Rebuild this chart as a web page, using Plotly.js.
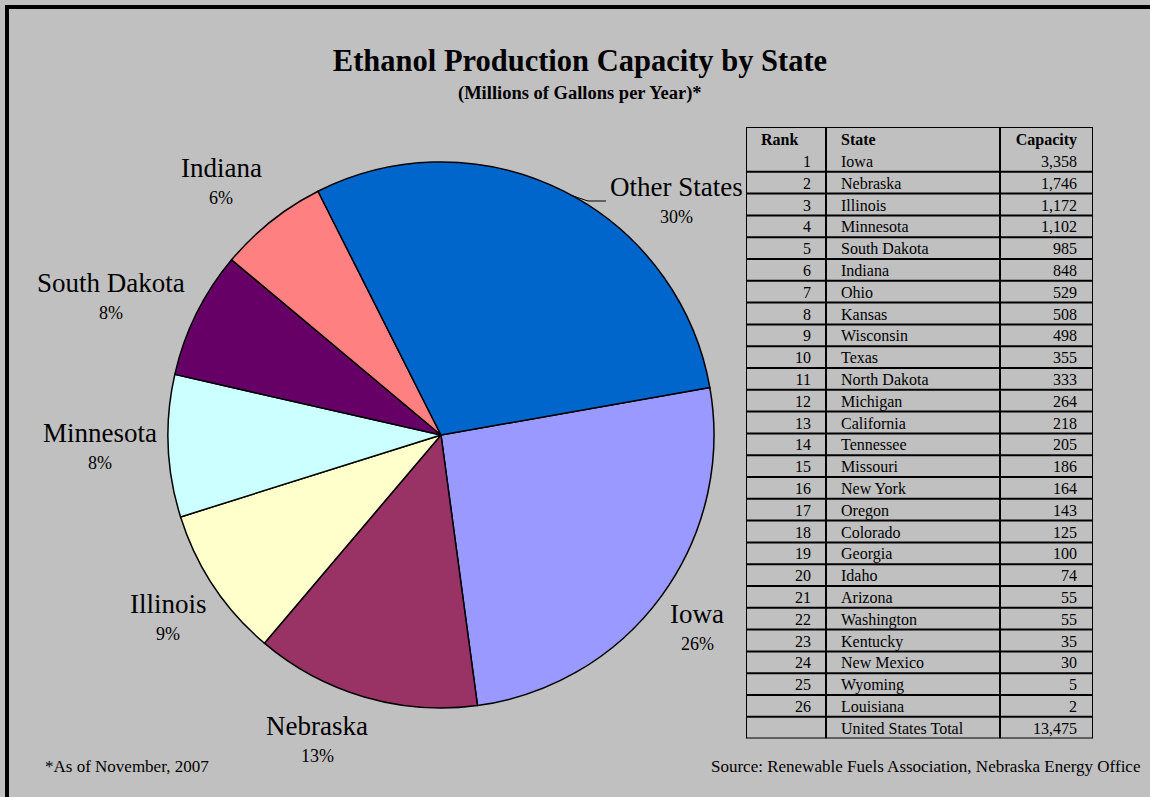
<!DOCTYPE html>
<html>
<head>
<meta charset="utf-8">
<script src="https://cdn.plot.ly/plotly-3.0.1.min.js"></script>
<style>html,body{margin:0;padding:0;background:#C0C0C0;}#chart{width:1150px;height:797px;}</style>
</head>
<body>
<div id="chart"></div>
<script>
// ---- data ----
const ranks = [1,2,3,4,5,6,7,8,9,10,11,12,13,14,15,16,17,18,19,20,21,22,23,24,25,26];
const states = ['Iowa','Nebraska','Illinois','Minnesota','South Dakota','Indiana','Ohio','Kansas','Wisconsin','Texas','North Dakota','Michigan','California','Tennessee','Missouri','New York','Oregon','Colorado','Georgia','Idaho','Arizona','Washington','Kentucky','New Mexico','Wyoming','Louisiana'];
const capacity = [3358,1746,1172,1102,985,848,529,508,498,355,333,264,218,205,186,164,143,125,100,74,55,55,35,30,5,2];
const tableHeaders = ['Rank','State','Capacity'];
const totalLabel = 'United States Total';
const totalCapacity = 13475;

const pieStates = ['Iowa','Nebraska','Illinois','Minnesota','South Dakota','Indiana'];
const otherLabel = 'Other States';
const pieColors = ['#9999FF','#993366','#FFFFCC','#CCFFFF','#660066','#FF8080','#0066CC'];

// pie values built from table
const pieLabels = pieStates.concat([otherLabel]);
const pieValues = pieStates.map(s => capacity[states.indexOf(s)]);
pieValues.push(capacity.filter((v,i) => !pieStates.includes(states[i])).reduce((a,b)=>a+b,0));
const pieSum = pieValues.reduce((a,b)=>a+b,0);

// ---- layout helpers ----
const W = 1150, H = 797;
const fx = px => px / W;
const fy = py => 1 - py / H;
const SERIF = '"Liberation Serif", "Times New Roman", Times, serif';

// label anchor points (pixel centre x, baseline y of name), per pie label
const labelPos = {
  'Iowa': [697, 623],
  'Nebraska': [317, 735],
  'Illinois': [168, 613],
  'Minnesota': [100, 442],
  'South Dakota': [111, 292],
  'Indiana': [221, 177],
  'Other States': [676, 196]
};

const annotations = [];
pieLabels.forEach((lab, i) => {
  const [cx, by] = labelPos[lab];
  const pct = Math.round(pieValues[i] / pieSum * 100) + '%';
  annotations.push({text: lab, x: fx(cx), y: fy(by - 8.6), xref:'paper', yref:'paper',
    xanchor:'center', yanchor:'middle', showarrow:false, font:{family:SERIF, size:27, color:'#000'}});
  annotations.push({text: pct, x: fx(cx), y: fy(by + 27 - 5.8), xref:'paper', yref:'paper',
    xanchor:'center', yanchor:'middle', showarrow:false, font:{family:SERIF, size:18, color:'#000'}});
});
annotations.push({text:'(Millions of Gallons per Year)*', x: fx(580), y: fy(93), xref:'paper', yref:'paper',
  xanchor:'center', yanchor:'middle', showarrow:false, font:{family:SERIF, size:18.5, color:'#000', weight:'bold'}});
annotations.push({text:'*As of November, 2007', x: fx(43), y: fy(766), xref:'paper', yref:'paper',
  xanchor:'left', yanchor:'middle', showarrow:false, font:{family:SERIF, size:17, color:'#000'}});
annotations.push({text:'Source: Renewable Fuels Association, Nebraska Energy Office', x: fx(1142), y: fy(766), xref:'paper', yref:'paper',
  xanchor:'right', yanchor:'middle', showarrow:false, font:{family:SERIF, size:17, color:'#000'}});

const fmt = v => v.toLocaleString('en-US');

const pieTrace = {
  type:'pie', labels: pieLabels, values: pieValues, sort:false, direction:'clockwise', rotation:80,
  marker:{colors: pieColors, line:{color:'#000', width:1.5}},
  textinfo:'none', hoverinfo:'label+value+percent',
  domain:{x:[fx(441-273), fx(441+273)], y:[fy(435+273), fy(435-273)]}
};

// ---- table drawn on its own hidden axes (units = pixels inside the table) ----
const TX0 = 746, TY0 = 127;
const COLW = [80, 174, 93];
const HEAD_H = 23, ROW_H = 21.8;
const bodyStates = states.concat([totalLabel]);
const bodyRanks = ranks.map(String).concat(['']);
const bodyCaps = capacity.map(fmt).concat([fmt(totalCapacity)]);
const nRows = bodyStates.length;
const tableW = COLW.reduce((a,b)=>a+b,0);
const tableH = HEAD_H + nRows * ROW_H;
const colEdges = [0, COLW[0], COLW[0]+COLW[1], tableW];
const rowEdges = [0].concat(bodyStates.map((s,i) => HEAD_H + (i+1) * ROW_H));
const rowMid = bodyStates.map((s,i) => HEAD_H + (i + 0.5) * ROW_H + 2);
const headMid = HEAD_H / 2 + 2.5;
const PAD_L = 15, PAD_R = 15;

const tfont = {family:SERIF, size:16, color:'#000'};
const tboldfont = {family:SERIF, size:16, color:'#000', weight:'bold'};
const common = {type:'scatter', mode:'text', xaxis:'x', yaxis:'y', hoverinfo:'skip', showlegend:false, cliponaxis:false};

const tableTraces = [
  Object.assign({}, common, {x:[colEdges[0]+PAD_L, colEdges[1]+PAD_L], y:[headMid, headMid], text:[tableHeaders[0], tableHeaders[1]], textposition:'middle right', textfont:tboldfont}),
  Object.assign({}, common, {x:[colEdges[3]-PAD_R-1], y:[headMid], text:[tableHeaders[2]], textposition:'middle left', textfont:tboldfont}),
  Object.assign({}, common, {x:bodyRanks.map(() => colEdges[1]-PAD_R), y:rowMid, text:bodyRanks, textposition:'middle left', textfont:tfont}),
  Object.assign({}, common, {x:bodyStates.map(() => colEdges[1]+PAD_L), y:rowMid, text:bodyStates, textposition:'middle right', textfont:tfont}),
  Object.assign({}, common, {x:bodyCaps.map(() => colEdges[3]-PAD_R-1), y:rowMid, text:bodyCaps, textposition:'middle left', textfont:tfont})
];

const gridShapes = [];
rowEdges.forEach(yv => gridShapes.push({type:'line', xref:'x', yref:'y', x0:0, x1:tableW, y0:yv, y1:yv, line:{color:'#000', width:2}}));
colEdges.forEach(xv => gridShapes.push({type:'line', xref:'x', yref:'y', x0:xv, x1:xv, y0:0, y1:tableH, line:{color:'#000', width:2}}));

const layout = {
  width:W, height:H,
  margin:{l:0,r:0,t:0,b:0},
  paper_bgcolor:'#C0C0C0', plot_bgcolor:'rgba(0,0,0,0)',
  showlegend:false,
  title:{text:'Ethanol Production Capacity by State', x: fx(580), xanchor:'center', y: fy(60), yanchor:'middle', yref:'container',
    font:{family:SERIF, size:30.5, color:'#000', weight:'bold'}},
  xaxis:{domain:[fx(TX0), fx(TX0 + tableW)], range:[0, tableW], visible:false, fixedrange:true},
  yaxis:{domain:[fy(TY0 + tableH), fy(TY0)], range:[tableH, 0], visible:false, fixedrange:true},
  annotations: annotations,
  shapes:[
    {type:'rect', xref:'paper', yref:'paper', x0: fx(7), x1: 1.05, y0: -0.05, y1: fy(7), line:{color:'#000', width:4}, fillcolor:'rgba(0,0,0,0)'},
    {type:'path', xref:'paper', yref:'paper', path:`M ${fx(570)} ${fy(195)} L ${fx(588)} ${fy(201)} L ${fx(606)} ${fy(201)}`, line:{color:'#000', width:1}}
  ].concat(gridShapes)
};

Plotly.newPlot('chart', [pieTrace].concat(tableTraces), layout, {displayModeBar:false});
</script>
</body>
</html>
